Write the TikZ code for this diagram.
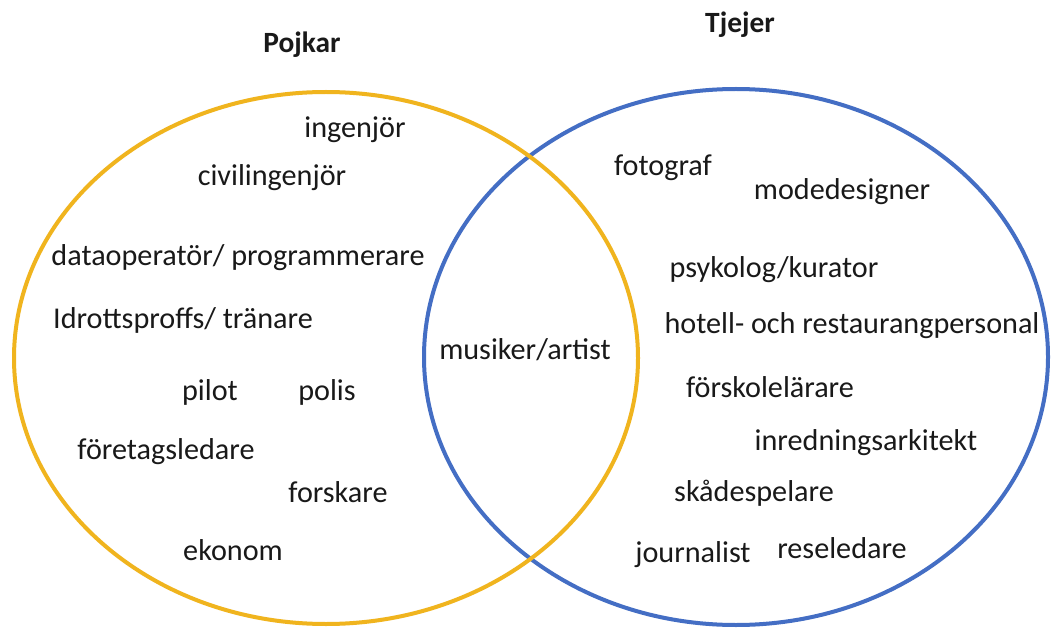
\documentclass[tikz,border=0pt]{standalone}
\usepackage{fontspec}
\setmainfont{Carlito}
\definecolor{vgold}{RGB}{240,180,30}
\definecolor{vblue}{RGB}{68,110,196}
\definecolor{vtext}{RGB}{25,25,25}
\begin{document}
\begin{tikzpicture}[x=1bp,y=-1bp,
  lbl/.style={text=vtext,inner sep=0pt,font=\fontsize{30.3}{34}\selectfont},
  ttl/.style={lbl,font=\fontsize{29.5}{34}\selectfont\bfseries},
  ring/.style={line width=4bp}]
\useasboundingbox (0,0) rectangle (1051,633);
\fill[white] (0,0) rectangle (1051,633);
\draw[ring,vblue] (736,357) ellipse [x radius=312, y radius=268];
\draw[ring,vgold] (326,358) ellipse [x radius=312, y radius=266];
\node[ttl] (pojkar) at (302,45) {Pojkar};
\node[ttl] (tjejer) at (740,25) {Tjejer};
\node[lbl] (ingenjor) at (355,130) {ingenjör};
\node[lbl] (civil) at (272,178) {civilingenjör};
\node[lbl] (data) at (238,258) {dataoperatör/ programmerare};
\node[lbl] (idrott) at (183,320) {Idrottsproffs/ tränare};
\node[lbl] (pilot) at (210,392) {pilot};
\node[lbl] (polis) at (327,392) {polis};
\node[lbl] (foretag) at (166,452) {företagsledare};
\node[lbl] (forskare) at (338,492) {forskare};
\node[lbl] (ekonom) at (233,550) {ekonom};
\node[lbl] (musiker) at (525,350) {musiker/artist};
\node[lbl] (fotograf) at (663,168) {fotograf};
\node[lbl] (mode) at (842,192) {modedesigner};
\node[lbl] (psyk) at (774,270) {psykolog/kurator};
\node[lbl] (hotell) at (852,326) {hotell- och restaurangpersonal};
\node[lbl] (forskol) at (770,387) {förskolelärare};
\node[lbl] (inred) at (866,443) {inredningsarkitekt};
\node[lbl] (skade) at (754,493) {skådespelare};
\node[lbl] (journ) at (693,555) {journalist};
\node[lbl] (rese) at (842,548) {reseledare};
\end{tikzpicture}
\end{document}
